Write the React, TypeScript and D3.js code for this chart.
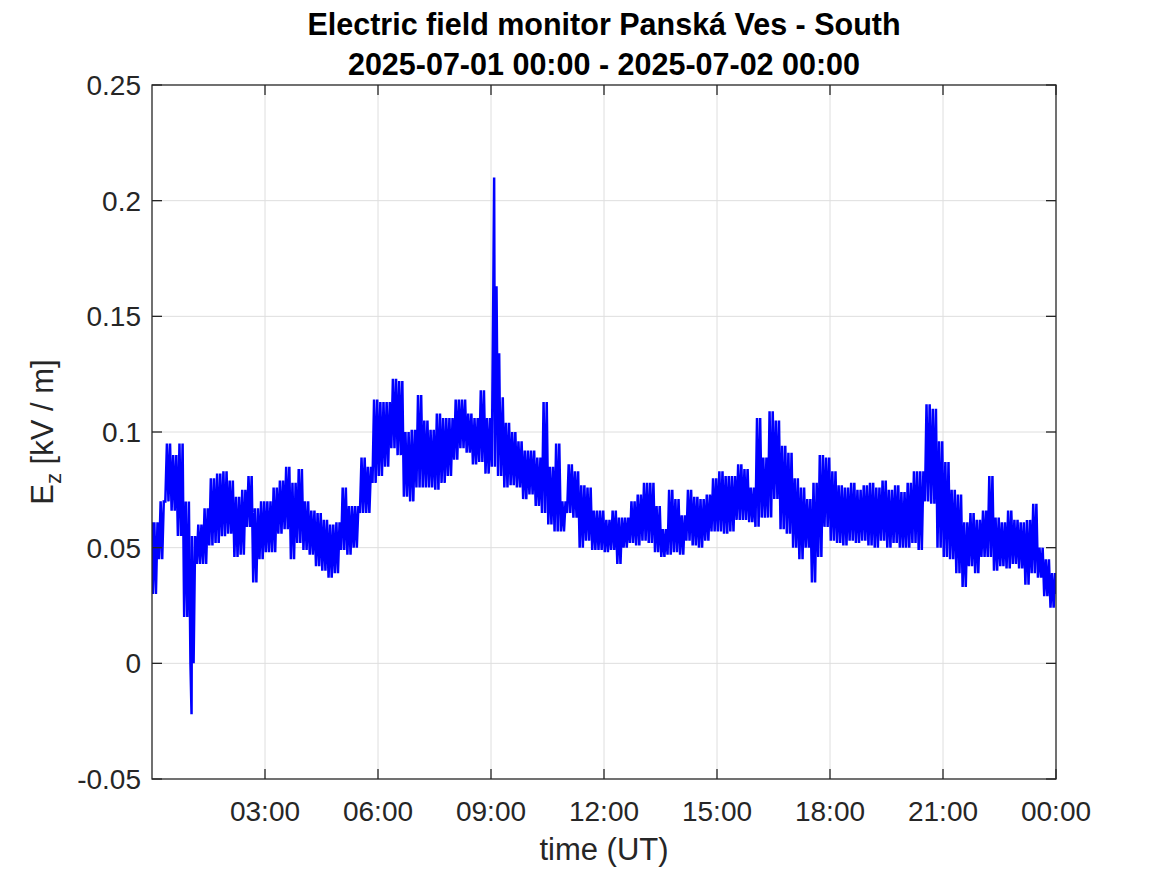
import React from "react";
import * as d3 from "d3";

// 10-minute bins starting 2025-07-01 00:00 UT: envelope (low / high) of E_z (kV/m)
const binMinutes = 10;
const hiValues = [
  0.061, 0.07, 0.095, 0.09, 0.095, 0.07,
  0.055, 0.06, 0.067, 0.08, 0.082, 0.083,
  0.079, 0.072, 0.075, 0.081, 0.067, 0.07,
  0.07, 0.076, 0.079, 0.085, 0.078, 0.084,
  0.07, 0.066, 0.065, 0.062, 0.06, 0.061,
  0.076, 0.068, 0.068, 0.089, 0.085, 0.114,
  0.113, 0.113, 0.123, 0.122, 0.1, 0.101,
  0.116, 0.105, 0.101, 0.108, 0.106, 0.106,
  0.114, 0.114, 0.108, 0.106, 0.118, 0.106,
  0.163, 0.115, 0.104, 0.1, 0.096, 0.092,
  0.092, 0.089, 0.113, 0.085, 0.095, 0.07,
  0.086, 0.083, 0.077, 0.076, 0.066, 0.066,
  0.062, 0.066, 0.063, 0.063, 0.07, 0.073,
  0.078, 0.078, 0.068, 0.058, 0.075, 0.071,
  0.064, 0.075, 0.072, 0.071, 0.073, 0.08,
  0.083, 0.081, 0.081, 0.086, 0.084, 0.076,
  0.106, 0.089, 0.109, 0.105, 0.094, 0.091,
  0.08, 0.076, 0.071, 0.078, 0.09, 0.089,
  0.083, 0.077, 0.076, 0.078, 0.075, 0.077,
  0.078, 0.076, 0.079, 0.075, 0.077, 0.074,
  0.078, 0.083, 0.083, 0.112, 0.11, 0.096,
  0.087, 0.075, 0.073, 0.061, 0.065, 0.062,
  0.066, 0.081, 0.063, 0.061, 0.066, 0.062,
  0.061, 0.062, 0.069, 0.05, 0.045, 0.039,
];
const loValues = [
  0.03, 0.045, 0.07, 0.066, 0.055, 0.02,
  0.0, 0.043, 0.043, 0.051, 0.052, 0.055,
  0.056, 0.046, 0.047, 0.059, 0.035, 0.045,
  0.048, 0.048, 0.056, 0.058, 0.045, 0.052,
  0.049, 0.047, 0.042, 0.04, 0.037, 0.039,
  0.049, 0.047, 0.05, 0.065, 0.065, 0.078,
  0.081, 0.085, 0.093, 0.09, 0.072, 0.07,
  0.076, 0.076, 0.076, 0.075, 0.078, 0.081,
  0.088, 0.093, 0.091, 0.086, 0.087, 0.082,
  0.085, 0.081, 0.076, 0.077, 0.076, 0.071,
  0.073, 0.068, 0.065, 0.06, 0.057, 0.057,
  0.065, 0.063, 0.05, 0.053, 0.049, 0.049,
  0.048, 0.049, 0.043, 0.05, 0.052, 0.051,
  0.053, 0.052, 0.048, 0.046, 0.047, 0.048,
  0.047, 0.053, 0.051, 0.05, 0.053, 0.057,
  0.057, 0.056, 0.057, 0.062, 0.062, 0.061,
  0.059, 0.063, 0.063, 0.071, 0.058, 0.056,
  0.05, 0.045, 0.05, 0.035, 0.046, 0.059,
  0.053, 0.052, 0.051, 0.053, 0.052, 0.053,
  0.051, 0.05, 0.053, 0.05, 0.052, 0.05,
  0.05, 0.052, 0.049, 0.07, 0.069, 0.05,
  0.046, 0.045, 0.039, 0.033, 0.042, 0.039,
  0.046, 0.046, 0.04, 0.042, 0.041, 0.043,
  0.041, 0.034, 0.039, 0.037, 0.029, 0.024,
];
// isolated narrow spikes: minute of day and value
const spikeMinutes = [63, 545, 553];
const spikeValues = [-0.022, 0.21, 0.134];

const yTicks = [-0.05, 0, 0.05, 0.1, 0.15, 0.2, 0.25];
const yTickLabels = ["-0.05", "0", "0.05", "0.1", "0.15", "0.2", "0.25"];
const xTickHours = [3, 6, 9, 12, 15, 18, 21, 24];
const titleLines = [
  "Electric field monitor Panská Ves - South",
  "2025-07-01 00:00 - 2025-07-02 00:00",
];

const W = 1167;
const H = 875;
const M = { left: 152, right: 1056, top: 85, bottom: 779 };
const FONT = "'Liberation Sans', Arial, Helvetica, sans-serif";

export default function App() {
  const start = new Date(Date.UTC(2025, 6, 1, 0, 0));
  const end = new Date(Date.UTC(2025, 6, 2, 0, 0));
  const x = d3.scaleUtc().domain([start, end]).range([M.left, M.right]);
  const y = d3.scaleLinear().domain([-0.05, 0.25]).range([M.bottom, M.top]);
  const fmt = d3.utcFormat("%H:%M");
  const xTicks = xTickHours.map((h) => new Date(start.getTime() + h * 3600e3));
  const minute = 60e3;

  const pts: [number, number][] = [];
  pts.push([0, hiValues[0]]);
  hiValues.forEach((hi, i) => {
    const lo = loValues[i];
    const t0 = i * binMinutes;
    for (let k = 0; k < 4; k++) {
      pts.push([t0 + (k + 0.5) * (binMinutes / 4), k % 2 === 0 ? lo : hi]);
    }
  });
  spikeMinutes.forEach((m, i) => pts.push([m, spikeValues[i]]));
  pts.push([24 * 60, loValues[loValues.length - 1] + 0.006]);
  pts.sort((a, b) => a[0] - b[0]);

  const line = d3
    .line<[number, number]>()
    .x((d) => x(new Date(start.getTime() + d[0] * minute)))
    .y((d) => y(d[1]));

  const tick = 10;
  const gridColor = "#dedede";
  const axisColor = "#262626";
  const cx = (M.left + M.right) / 2;

  return (
    <svg
      width={W}
      height={H}
      style={{ position: "absolute", left: 0, top: 0, background: "#fff" }}
      fontFamily={FONT}
    >
      <rect x={0} y={0} width={W} height={H} fill="#fff" />
      {xTicks.slice(0, -1).map((t, i) => (
        <line key={"gx" + i} x1={x(t)} x2={x(t)} y1={M.top} y2={M.bottom} stroke={gridColor} strokeWidth={1} />
      ))}
      {yTicks.slice(1, -1).map((v, i) => (
        <line key={"gy" + i} x1={M.left} x2={M.right} y1={y(v)} y2={y(v)} stroke={gridColor} strokeWidth={1} />
      ))}
      <clipPath id="clip">
        <rect x={M.left} y={M.top} width={M.right - M.left} height={M.bottom - M.top} />
      </clipPath>
      <path
        d={line(pts) || ""}
        fill="none"
        stroke="#0000ff"
        strokeWidth={2.5}
        strokeLinejoin="miter"
        strokeMiterlimit={1.5}
        clipPath="url(#clip)"
      />
      <rect x={M.left} y={M.top} width={M.right - M.left} height={M.bottom - M.top} fill="none" stroke={axisColor} strokeWidth={1.3} />
      {xTicks.map((t, i) => (
        <g key={"xt" + i}>
          <line x1={x(t)} x2={x(t)} y1={M.bottom} y2={M.bottom - tick} stroke={axisColor} strokeWidth={1.3} />
          <line x1={x(t)} x2={x(t)} y1={M.top} y2={M.top + tick} stroke={axisColor} strokeWidth={1.3} />
          <text x={x(t)} y={M.bottom + 42} textAnchor="middle" fontSize={28} fill={axisColor}>
            {fmt(t)}
          </text>
        </g>
      ))}
      {yTicks.map((v, i) => (
        <g key={"yt" + i}>
          <line x1={M.left} x2={M.left + tick} y1={y(v)} y2={y(v)} stroke={axisColor} strokeWidth={1.3} />
          <line x1={M.right} x2={M.right - tick} y1={y(v)} y2={y(v)} stroke={axisColor} strokeWidth={1.3} />
          <text x={M.left - 11} y={y(v) + 10} textAnchor="end" fontSize={28} fill={axisColor}>
            {yTickLabels[i]}
          </text>
        </g>
      ))}
      <text x={cx} y={860} textAnchor="middle" fontSize={31} fill={axisColor}>
        time (UT)
      </text>
      <text transform={`translate(53, ${(M.top + M.bottom) / 2}) rotate(-90)`} textAnchor="middle" fontSize={31} fill={axisColor}>
        E<tspan fontSize={22} dy={8}>z</tspan>
        <tspan dy={-8}> [kV / m]</tspan>
      </text>
      <text x={cx} y={35} textAnchor="middle" fontSize={30.5} fontWeight="bold" fill="#000">
        {titleLines[0]}
      </text>
      <text x={cx} y={75} textAnchor="middle" fontSize={30.5} fontWeight="bold" fill="#000">
        {titleLines[1]}
      </text>
    </svg>
  );
}
